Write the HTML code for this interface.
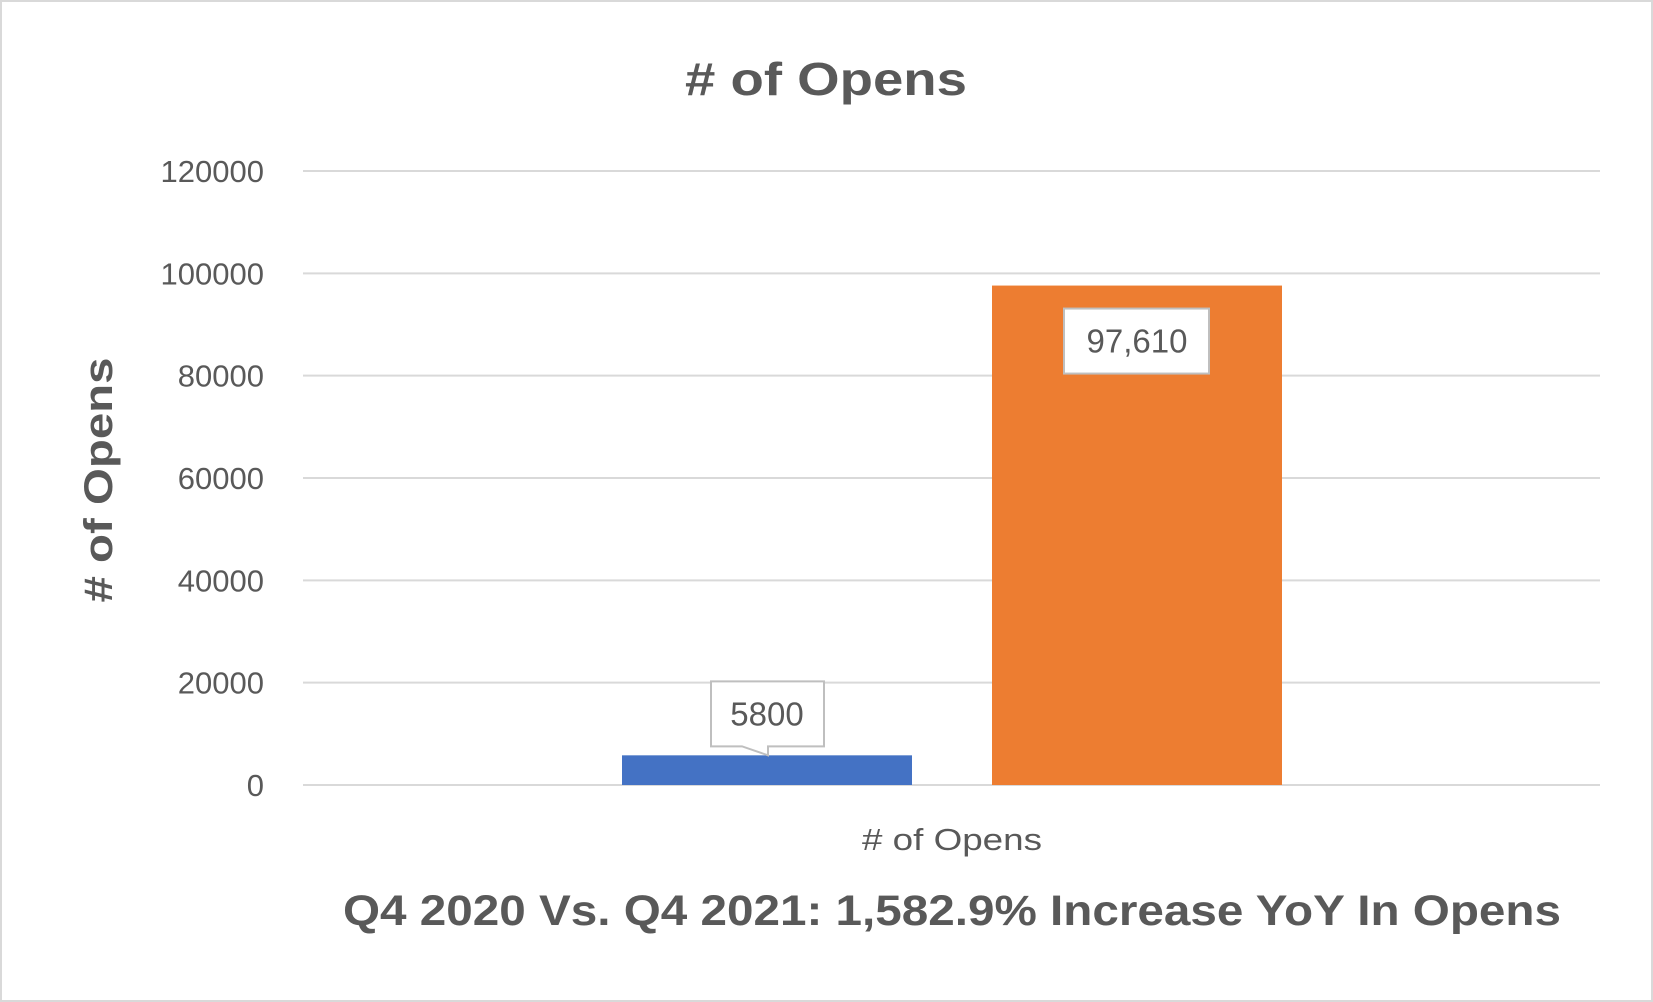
<!DOCTYPE html>
<html><head><meta charset="utf-8"><style>
html,body{margin:0;padding:0;background:#fff;}
svg{display:block;font-family:"Liberation Sans",sans-serif;}
</style></head><body>
<svg id="chart" width="1653" height="1002" viewBox="0 0 1653 1002">
<rect x="1" y="1" width="1651" height="1000" fill="#fff" stroke="#d9d9d9" stroke-width="2"/>
<text x="826" y="95" text-anchor="middle" font-size="46" font-weight="bold" fill="#595959" textLength="282" lengthAdjust="spacingAndGlyphs"># of Opens</text>
<text transform="translate(112,480) rotate(-90)" text-anchor="middle" font-size="40" font-weight="bold" fill="#595959" textLength="245" lengthAdjust="spacingAndGlyphs"># of Opens</text>
<g id="grid"></g>
<g id="bars"></g>
<text x="952" y="850" text-anchor="middle" font-size="31" fill="#595959" textLength="180" lengthAdjust="spacingAndGlyphs"># of Opens</text>
<text x="952" y="925" text-anchor="middle" font-size="43" font-weight="bold" fill="#595959" textLength="1218" lengthAdjust="spacingAndGlyphs">Q4 2020 Vs. Q4 2021: 1,582.9% Increase YoY In Opens</text>
</svg>
<script>
const ticks = [0, 20000, 40000, 60000, 80000, 100000, 120000];
const seriesNames = ["Q4 2020", "Q4 2021"];
const values = [5800, 97610];
const valueLabels = ["5800", "97,610"];

const NS = "http://www.w3.org/2000/svg";
const plotL = 303, plotR = 1600, y0 = 785, yTop = 171, yMax = 120000;
const y = v => y0 - (v / yMax) * (y0 - yTop);
const colors = ["#4472c4", "#ed7d31"];
const barX = [622, 992], barW = 290;

const grid = document.getElementById("grid");
ticks.forEach(t => {
  const l = document.createElementNS(NS, "line");
  l.setAttribute("x1", plotL); l.setAttribute("x2", plotR);
  l.setAttribute("y1", y(t)); l.setAttribute("y2", y(t));
  l.setAttribute("stroke", "#d9d9d9"); l.setAttribute("stroke-width", "2");
  
  
  grid.appendChild(l);
  const tx = document.createElementNS(NS, "text");
  tx.setAttribute("x", 264); tx.setAttribute("y", y(t) + 11);
  tx.setAttribute("text-anchor", "end"); tx.setAttribute("font-size", "31");
  tx.setAttribute("fill", "#595959");
  tx.textContent = t;
  
  
  grid.appendChild(tx);
});

const bars = document.getElementById("bars");
values.forEach((v, i) => {
  const r = document.createElementNS(NS, "rect");
  r.setAttribute("x", barX[i]); r.setAttribute("width", barW);
  r.setAttribute("y", y(v)); r.setAttribute("height", y0 - y(v));
  r.setAttribute("fill", colors[i]);
  
  
  bars.appendChild(r);
});

// label for small bar: callout above
(function(){
  const cx = barX[0] + barW / 2, top = y(values[0]);
  const g = document.createElementNS(NS, "g");
  
  
  const bx = cx - 56, bw = 113, by = top - 74, bh = 65;
  const p = document.createElementNS(NS, "path");
  p.setAttribute("d", `M${bx},${by} H${bx+bw} V${by+bh} H${cx+1} L${cx+1},${top} L${cx-25},${by+bh} H${bx} Z`);
  p.setAttribute("fill", "#fff"); p.setAttribute("stroke", "#bfbfbf"); p.setAttribute("stroke-width", "2");
  g.appendChild(p);
  const t = document.createElementNS(NS, "text");
  t.setAttribute("x", cx); t.setAttribute("y", by + 44);
  t.setAttribute("text-anchor", "middle"); t.setAttribute("font-size", "33"); t.setAttribute("fill", "#595959");
  t.textContent = valueLabels[0];
  g.appendChild(t);
  bars.appendChild(g);
})();
// label for big bar: inside near top
(function(){
  const cx = barX[1] + barW / 2, top = y(values[1]);
  const g = document.createElementNS(NS, "g");
  
  
  const r = document.createElementNS(NS, "rect");
  r.setAttribute("x", cx - 73); r.setAttribute("y", top + 23);
  r.setAttribute("width", 145); r.setAttribute("height", 65);
  r.setAttribute("fill", "#fff"); r.setAttribute("stroke", "#bfbfbf"); r.setAttribute("stroke-width", "2");
  g.appendChild(r);
  const t = document.createElementNS(NS, "text");
  t.setAttribute("x", cx); t.setAttribute("y", top + 67);
  t.setAttribute("text-anchor", "middle"); t.setAttribute("font-size", "33"); t.setAttribute("fill", "#595959");
  t.textContent = valueLabels[1];
  g.appendChild(t);
  bars.appendChild(g);
})();
</script>
</body></html>
